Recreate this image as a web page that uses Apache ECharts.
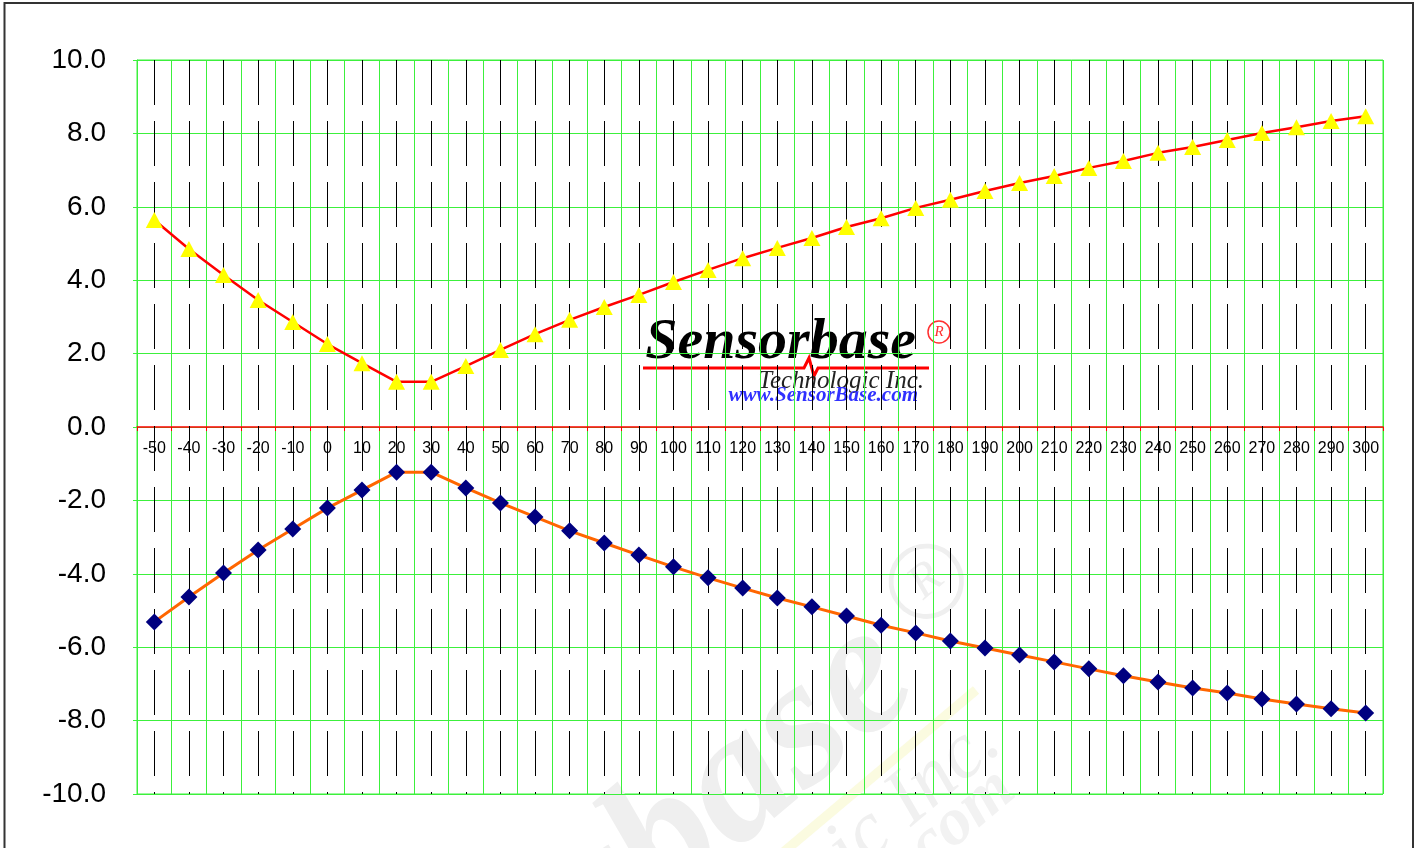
<!DOCTYPE html>
<html>
<head>
<meta charset="utf-8">
<script src="https://cdn.jsdelivr.net/npm/echarts@6/dist/echarts.min.js"></script>
<style>
  html, body { margin: 0; padding: 0; background: #fff; }
  #chart { width: 1421px; height: 848px; }
</style>
</head>
<body>
<div id="chart"></div>
<script>
  const categories = ['-50', '-40', '-30', '-20', '-10', '0', '10', '20', '30', '40', '50', '60',
    '70', '80', '90', '100', '110', '120', '130', '140', '150', '160', '170', '180',
    '190', '200', '210', '220', '230', '240', '250', '260', '270', '280', '290', '300']
  // yellow triangles, red line
  const upperValues = [5.64, 4.85, 4.14, 3.46, 2.86, 2.26, 1.74, 1.23, 1.23, 1.66, 2.10, 2.53,
    2.92, 3.27, 3.60, 3.95, 4.28, 4.60, 4.88, 5.15, 5.45, 5.69, 5.97, 6.19,
    6.43, 6.65, 6.84, 7.06, 7.25, 7.47, 7.63, 7.82, 8.01, 8.17, 8.34, 8.47]
  // navy diamonds, orange line
  const lowerValues = [-5.31, -4.63, -3.98, -3.35, -2.78, -2.21, -1.72, -1.23, -1.23, -1.66, -2.07, -2.45,
    -2.83, -3.16, -3.49, -3.81, -4.11, -4.39, -4.66, -4.90, -5.15, -5.40, -5.61, -5.83,
    -6.02, -6.21, -6.40, -6.59, -6.78, -6.95, -7.11, -7.25, -7.41, -7.55, -7.68, -7.79]
  const yMin = -10
  const yMax = 10
  const yStep = 2

  const GREEN = "#3cf03c"

  // logo parts, local coords relative to right end of red underline
  function logoParts(c) {
    const parts = []
    if (c.bg) {
      parts.push({ type: "rect", shape: { x: -287, y: -61, width: 314, height: 106 }, style: { fill: c.bg } })
    }
    parts.push({
      type: "polyline",
      shape: { points: [[-286, 0], [-125, 0], [-120, -10], [-115, 8], [-111, 0], [0, 0]] },
      style: { stroke: c.line, lineWidth: 3, fill: null },
    })
    parts.push({
      type: "text", x: -13, y: -25,
      style: { text: "Sensorbase", font: 'italic bold 58px "Liberation Serif"', fill: c.text,
        align: "right", textAlign: "right", verticalAlign: "middle", textVerticalAlign: "middle" },
    })
    parts.push({ type: "circle", shape: { cx: 10, cy: -36, r: 11 }, style: { fill: null, stroke: c.reg, lineWidth: 1.5 } })
    parts.push({
      type: "text", x: 10, y: -36,
      style: { text: "R", font: 'italic 15px "Liberation Serif"', fill: c.reg,
        align: "center", textAlign: "center", verticalAlign: "middle", textVerticalAlign: "middle" },
    })
    parts.push({
      type: "text", x: -5, y: 13,
      style: { text: "Technologic Inc.", font: 'italic 25px "Liberation Serif"', fill: c.tech,
        align: "right", textAlign: "right", verticalAlign: "middle", textVerticalAlign: "middle" },
    })
    parts.push({
      type: "text", x: -11, y: 28,
      style: { text: "www.SensorBase.com", font: 'italic bold 21px "Liberation Serif"', fill: c.url,
        align: "right", textAlign: "right", verticalAlign: "middle", textVerticalAlign: "middle" },
    })
    return parts
  }

  const option = {
    animation: false,
    backgroundColor: "#fff",
    grid: { left: 137, right: 38, top: 60, bottom: 54, show: true, borderColor: GREEN, borderWidth: 1, backgroundColor: "transparent" },
    xAxis: [
      {
        type: "category",
        data: categories,
        position: "bottom",
        offset: -367, // sits on y = 0
        axisLine: { onZero: false, lineStyle: { color: "#ff0000", width: 1.5 } },
        axisTick: { show: true, interval: 0, length: 4, lineStyle: { color: "#ff0000" } },
        axisLabel: { interval: 0, margin: 14, color: "#000", fontSize: 16, fontFamily: "Liberation Sans" },
        splitLine: { show: true, interval: 0, lineStyle: { color: GREEN, width: 1 } },
      },
      {
        // black dashed lines at category centres
        type: "category",
        data: categories,
        position: "top",
        axisLine: { show: false, onZero: false },
        axisLabel: { show: false },
        splitLine: { show: false },
        axisTick: { show: true, inside: true, alignWithLabel: true, interval: 0, length: 734,
          lineStyle: { color: "#000", width: 1, type: [45, 16] } },
      },
    ],
    yAxis: {
      type: "value",
      min: yMin,
      max: yMax,
      interval: yStep,
      axisLine: { show: true, lineStyle: { color: GREEN } },
      axisTick: { show: true, length: 4, lineStyle: { color: GREEN } },
      axisLabel: { margin: 31, fontSize: 28, color: "#000", fontFamily: "Liberation Sans",
        formatter: (v) => v.toFixed(1) },
      splitLine: { lineStyle: { color: GREEN, width: 1 } },
    },
    graphic: {
      elements: [
        {
          // faint watermark
          type: "group", x: 976, y: 690, rotation: 0.70, scaleX: 3.2, scaleY: 3.2, z: -1, silent: true,
          children: logoParts({ text: "#efefef", tech: "#f0f0f0", url: "#f2f2f2", line: "#fbfbe0", reg: "#efefef" }),
        },
        {
          type: "group", x: 929, y: 368, z: 10, silent: true,
          children: logoParts({ bg: "#fff", text: "#000", tech: "#222", url: "#3030ff", line: "#ff0000", reg: "#ff3030" }),
        },
        {
          type: "rect", z: 20, silent: true,
          shape: { x: 4.5, y: 3, width: 1408.5, height: 900 },
          style: { fill: null, stroke: "#333", lineWidth: 2 },
        },
      ],
    },
    series: [
      {
        type: "line",
        data: upperValues,
        symbol: "triangle",
        symbolSize: [17, 16],
        showAllSymbol: true,
        itemStyle: { color: "#ffff00", borderWidth: 0 },
        lineStyle: { color: "#ff0000", width: 2.5 },
        z: 3,
      },
      {
        type: "line",
        data: lowerValues,
        symbol: "diamond",
        symbolSize: 17,
        showAllSymbol: true,
        itemStyle: { color: "#000080", borderWidth: 0 },
        lineStyle: { color: "#ff6600", width: 3 },
        z: 3,
      },
    ],
  }

  const myChart = echarts.init(document.getElementById("chart"))
  myChart.setOption(option)
</script>
</body>
</html>
